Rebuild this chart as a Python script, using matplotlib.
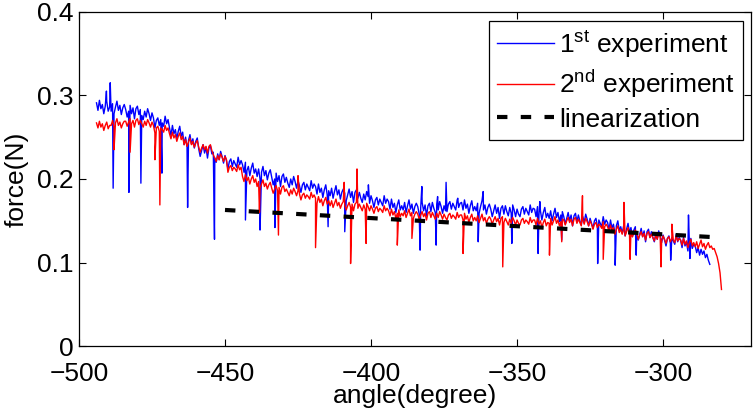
import numpy as np
import matplotlib
matplotlib.use("Agg")
import matplotlib.pyplot as plt

plt.rcParams['font.family'] = ['Liberation Sans', 'DejaVu Sans']
plt.rcParams['mathtext.fontset'] = 'custom'
plt.rcParams['mathtext.rm'] = 'Liberation Sans'
plt.rcParams['mathtext.it'] = 'Liberation Sans:italic'
plt.rcParams['mathtext.bf'] = 'Liberation Sans:bold'

# ---------------- data ----------------
# samples every 0.5 degree, starting at the given angle
blue_start = -494.0
blue_force = [
    0.291, 0.282, 0.294, 0.284, 0.289, 0.278, 0.287, 0.293, 0.281, 0.286,
    0.281, 0.290, 0.278, 0.286, 0.293, 0.282, 0.288, 0.277, 0.285, 0.289,
    0.283, 0.274, 0.281, 0.288, 0.278, 0.285, 0.272, 0.284, 0.287, 0.277,
    0.283, 0.276, 0.271, 0.281, 0.274, 0.284, 0.278, 0.270, 0.279, 0.273,
    0.261, 0.270, 0.273, 0.264, 0.271, 0.267, 0.263, 0.275, 0.266, 0.271,
    0.261, 0.252, 0.264, 0.254, 0.259, 0.248, 0.257, 0.263, 0.251, 0.256,
    0.241, 0.250, 0.238, 0.246, 0.253, 0.242, 0.248, 0.237, 0.245, 0.249,
    0.236, 0.227, 0.234, 0.241, 0.231, 0.238, 0.225, 0.237, 0.240, 0.230,
    0.232, 0.225, 0.220, 0.230, 0.223, 0.233, 0.227, 0.219, 0.228, 0.222,
    0.212, 0.221, 0.224, 0.215, 0.222, 0.218, 0.214, 0.226, 0.217, 0.222,
    0.217, 0.208, 0.220, 0.210, 0.215, 0.204, 0.213, 0.219, 0.207, 0.212,
    0.203, 0.212, 0.200, 0.208, 0.215, 0.204, 0.210, 0.199, 0.207, 0.211,
    0.202, 0.193, 0.200, 0.207, 0.197, 0.204, 0.191, 0.203, 0.206, 0.196,
    0.202, 0.195, 0.190, 0.200, 0.193, 0.203, 0.197, 0.189, 0.198, 0.192,
    0.184, 0.193, 0.196, 0.187, 0.194, 0.190, 0.186, 0.198, 0.189, 0.194,
    0.191, 0.182, 0.194, 0.184, 0.189, 0.178, 0.187, 0.193, 0.181, 0.186,
    0.180, 0.189, 0.177, 0.185, 0.192, 0.181, 0.187, 0.176, 0.184, 0.188,
    0.183, 0.174, 0.181, 0.188, 0.178, 0.185, 0.172, 0.184, 0.187, 0.177,
    0.184, 0.177, 0.172, 0.182, 0.175, 0.185, 0.179, 0.171, 0.180, 0.174,
    0.166, 0.175, 0.178, 0.169, 0.176, 0.172, 0.168, 0.180, 0.171, 0.176,
    0.173, 0.164, 0.176, 0.166, 0.171, 0.160, 0.169, 0.175, 0.163, 0.168,
    0.163, 0.172, 0.160, 0.168, 0.175, 0.164, 0.170, 0.159, 0.167, 0.171,
    0.167, 0.158, 0.165, 0.172, 0.162, 0.169, 0.156, 0.168, 0.171, 0.161,
    0.172, 0.165, 0.160, 0.170, 0.163, 0.173, 0.167, 0.159, 0.168, 0.162,
    0.161, 0.170, 0.173, 0.164, 0.171, 0.167, 0.163, 0.175, 0.166, 0.171,
    0.172, 0.163, 0.175, 0.165, 0.170, 0.159, 0.168, 0.174, 0.162, 0.167,
    0.162, 0.171, 0.159, 0.167, 0.174, 0.163, 0.169, 0.158, 0.166, 0.170,
    0.164, 0.155, 0.162, 0.169, 0.159, 0.166, 0.153, 0.165, 0.168, 0.158,
    0.168, 0.161, 0.156, 0.166, 0.159, 0.169, 0.163, 0.155, 0.164, 0.158,
    0.155, 0.164, 0.167, 0.158, 0.165, 0.161, 0.157, 0.169, 0.160, 0.165,
    0.164, 0.155, 0.167, 0.157, 0.162, 0.151, 0.160, 0.166, 0.154, 0.159,
    0.153, 0.162, 0.150, 0.158, 0.165, 0.154, 0.160, 0.149, 0.157, 0.161,
    0.155, 0.146, 0.153, 0.160, 0.150, 0.157, 0.144, 0.156, 0.159, 0.149,
    0.157, 0.150, 0.145, 0.155, 0.148, 0.158, 0.152, 0.144, 0.153, 0.147,
    0.141, 0.150, 0.153, 0.144, 0.151, 0.147, 0.143, 0.155, 0.146, 0.151,
    0.148, 0.139, 0.151, 0.141, 0.146, 0.135, 0.144, 0.150, 0.138, 0.143,
    0.135, 0.144, 0.132, 0.140, 0.147, 0.136, 0.142, 0.131, 0.139, 0.143,
    0.136, 0.127, 0.134, 0.141, 0.131, 0.138, 0.125, 0.137, 0.140, 0.130,
    0.137, 0.130, 0.125, 0.135, 0.128, 0.138, 0.132, 0.124, 0.133, 0.127,
    0.120, 0.129, 0.132, 0.123, 0.130, 0.126, 0.122, 0.134, 0.125, 0.130,
    0.127, 0.118, 0.130, 0.120, 0.125, 0.114, 0.123, 0.129, 0.117, 0.122,
    0.120, 0.112, 0.118, 0.109, 0.116, 0.110, 0.114, 0.106, 0.110, 0.103,
    0.098,
]
blue_spike_angle = [-490.6, -489.3, -488.3, -482.9, -478.8, -471.6, -462.8,
                    -453.6, -443.0, -438.0, -432.9, -414.7, -409.0, -400.9,
                    -383.2, -382.6, -377.7, -377.2, -374.3, -370.3, -363.3,
                    -361.6, -351.8, -342.8, -342.2, -334.7, -322.4, -316.4,
                    -309.2, -297.4, -291.3, -290.8]
blue_spike_force = [0.305, 0.315, 0.189, 0.184, 0.195, 0.207, 0.166,
                    0.128, 0.151, 0.139, 0.142, 0.143, 0.137, 0.193,
                    0.115, 0.191, 0.121, 0.179, 0.196, 0.177, 0.125,
                    0.185, 0.123, 0.111, 0.173, 0.127, 0.099, 0.097,
                    0.109, 0.103, 0.157, 0.105]

red_start = -494.0
red_force = [
    0.267, 0.261, 0.269, 0.262, 0.266, 0.258, 0.264, 0.268, 0.260, 0.264,
    0.264, 0.270, 0.262, 0.267, 0.272, 0.264, 0.268, 0.261, 0.266, 0.269,
    0.269, 0.263, 0.268, 0.272, 0.266, 0.270, 0.262, 0.270, 0.272, 0.265,
    0.270, 0.266, 0.262, 0.269, 0.264, 0.271, 0.267, 0.262, 0.268, 0.264,
    0.255, 0.261, 0.263, 0.257, 0.261, 0.259, 0.256, 0.264, 0.258, 0.261,
    0.254, 0.248, 0.256, 0.249, 0.253, 0.245, 0.251, 0.255, 0.247, 0.251,
    0.241, 0.247, 0.239, 0.244, 0.249, 0.241, 0.245, 0.238, 0.243, 0.246,
    0.238, 0.232, 0.237, 0.241, 0.235, 0.239, 0.231, 0.239, 0.241, 0.234,
    0.229, 0.225, 0.221, 0.228, 0.223, 0.230, 0.226, 0.221, 0.227, 0.223,
    0.208, 0.214, 0.216, 0.210, 0.214, 0.212, 0.209, 0.217, 0.211, 0.214,
    0.203, 0.197, 0.205, 0.198, 0.202, 0.194, 0.200, 0.204, 0.196, 0.200,
    0.191, 0.197, 0.189, 0.194, 0.199, 0.191, 0.195, 0.188, 0.193, 0.196,
    0.189, 0.183, 0.188, 0.192, 0.186, 0.190, 0.182, 0.190, 0.192, 0.185,
    0.188, 0.184, 0.180, 0.187, 0.182, 0.189, 0.185, 0.180, 0.186, 0.182,
    0.175, 0.181, 0.183, 0.177, 0.181, 0.179, 0.176, 0.184, 0.178, 0.181,
    0.177, 0.171, 0.179, 0.172, 0.176, 0.168, 0.174, 0.178, 0.170, 0.174,
    0.168, 0.174, 0.166, 0.171, 0.176, 0.168, 0.172, 0.165, 0.170, 0.173,
    0.169, 0.163, 0.168, 0.172, 0.166, 0.170, 0.162, 0.170, 0.172, 0.165,
    0.170, 0.166, 0.162, 0.169, 0.164, 0.171, 0.167, 0.162, 0.168, 0.164,
    0.159, 0.165, 0.167, 0.161, 0.165, 0.163, 0.160, 0.168, 0.162, 0.165,
    0.162, 0.156, 0.164, 0.157, 0.161, 0.153, 0.159, 0.163, 0.155, 0.159,
    0.156, 0.162, 0.154, 0.159, 0.164, 0.156, 0.160, 0.153, 0.158, 0.161,
    0.158, 0.152, 0.157, 0.161, 0.155, 0.159, 0.151, 0.159, 0.161, 0.154,
    0.160, 0.156, 0.152, 0.159, 0.154, 0.161, 0.157, 0.152, 0.158, 0.154,
    0.151, 0.157, 0.159, 0.153, 0.157, 0.155, 0.152, 0.160, 0.154, 0.157,
    0.157, 0.151, 0.159, 0.152, 0.156, 0.148, 0.154, 0.158, 0.150, 0.154,
    0.150, 0.156, 0.148, 0.153, 0.158, 0.150, 0.154, 0.147, 0.152, 0.155,
    0.152, 0.146, 0.151, 0.155, 0.149, 0.153, 0.145, 0.153, 0.155, 0.148,
    0.153, 0.149, 0.145, 0.152, 0.147, 0.154, 0.150, 0.145, 0.151, 0.147,
    0.145, 0.151, 0.153, 0.147, 0.151, 0.149, 0.146, 0.154, 0.148, 0.151,
    0.151, 0.145, 0.153, 0.146, 0.150, 0.142, 0.148, 0.152, 0.144, 0.148,
    0.147, 0.153, 0.145, 0.150, 0.155, 0.147, 0.151, 0.144, 0.149, 0.152,
    0.151, 0.145, 0.150, 0.154, 0.148, 0.152, 0.144, 0.152, 0.154, 0.147,
    0.152, 0.148, 0.144, 0.151, 0.146, 0.153, 0.149, 0.144, 0.150, 0.146,
    0.140, 0.146, 0.148, 0.142, 0.146, 0.144, 0.141, 0.149, 0.143, 0.146,
    0.143, 0.137, 0.145, 0.138, 0.142, 0.134, 0.140, 0.144, 0.136, 0.140,
    0.134, 0.140, 0.132, 0.137, 0.142, 0.134, 0.138, 0.131, 0.136, 0.139,
    0.134, 0.128, 0.133, 0.137, 0.131, 0.135, 0.127, 0.135, 0.137, 0.130,
    0.134, 0.130, 0.126, 0.133, 0.128, 0.135, 0.131, 0.126, 0.132, 0.128,
    0.123, 0.129, 0.131, 0.125, 0.129, 0.127, 0.124, 0.132, 0.126, 0.129,
    0.127, 0.121, 0.129, 0.122, 0.126, 0.118, 0.124, 0.128, 0.120, 0.124,
    0.119, 0.125, 0.117, 0.122, 0.127, 0.119, 0.123, 0.116, 0.121, 0.124,
    0.118, 0.120, 0.116, 0.117, 0.112, 0.107, 0.099, 0.088, 0.068,
]
red_spike_angle = [-488.0, -482.5, -474.0, -472.3, -461.0, -438.2, -431.7,
                   -425.0, -419.0, -409.2, -407.0, -404.8, -401.7, -391.0,
                   -386.0, -368.5, -354.9, -338.9, -334.7, -327.6, -320.5,
                   -313.4, -311.3, -300.7, -297.0]
red_spike_force = [0.235, 0.232, 0.223, 0.169, 0.243, 0.160, 0.133,
                   0.204, 0.118, 0.196, 0.099, 0.212, 0.123, 0.121,
                   0.129, 0.111, 0.095, 0.109, 0.125, 0.180, 0.104,
                   0.172, 0.104, 0.095, 0.146]

lin_angle = [-450, -280]
lin_force = [0.163, 0.130]

x_ticks = [-500, -450, -400, -350, -300]
y_ticks = [0, 0.1, 0.2, 0.3, 0.4]
y_tick_labels = ['0', '0.1', '0.2', '0.3', '0.4']
labels = [r'1$^{\mathrm{st}}$ experiment', r'2$^{\mathrm{nd}}$ experiment',
          'linearization']
sample_step = 0.5


def series(start, base, s_ang, s_val):
    ang = np.concatenate([start + sample_step * np.arange(len(base)),
                          np.asarray(s_ang, dtype=float)])
    val = np.concatenate([np.asarray(base), np.asarray(s_val)])
    order = np.argsort(ang, kind='stable')
    return ang[order], val[order]


bx, by = series(blue_start, blue_force, blue_spike_angle, blue_spike_force)
rx, ry = series(red_start, red_force, red_spike_angle, red_spike_force)

# ---------------- figure ----------------
fig = plt.figure(figsize=(7.55, 4.13), dpi=100)
ax = fig.add_axes([0.1046, 0.1613, 0.8897, 0.8106])

ax.plot(bx, by, color=(0, 0, 1), lw=1.0, label=labels[0])
ax.plot(rx, ry, color=(1, 0, 0), lw=1.0, label=labels[1])
ax.plot(lin_angle, lin_force, color='black', lw=3.0, dashes=(2.5, 3.2),
        label=labels[2])

ax.set_xlim(-500, -270)
ax.set_ylim(0, 0.4)
ax.set_xticks(x_ticks)
ax.set_yticks(y_ticks)
ax.set_yticklabels(y_tick_labels)
ax.tick_params(direction='in', length=5, width=0.8, top=True, right=True,
               labelsize=19, colors='black')
ax.tick_params(axis='x', pad=11)
ax.tick_params(axis='y', pad=4)
for s in ax.spines.values():
    s.set_linewidth(0.9)
    s.set_color('black')

ax.set_xlabel('angle(degree)', fontsize=19, labelpad=-1)
ax.set_ylabel('force(N)', fontsize=19, labelpad=6)

leg = ax.legend(loc='upper right', bbox_to_anchor=(0.9885, 0.972),
                borderaxespad=0, fontsize=19, frameon=True, fancybox=False,
                framealpha=1, edgecolor='black', borderpad=0.3,
                handlelength=2.15, handletextpad=0.2, labelspacing=0.3)
leg.get_frame().set_linewidth(0.9)

fig.savefig('out.png', dpi=100)
